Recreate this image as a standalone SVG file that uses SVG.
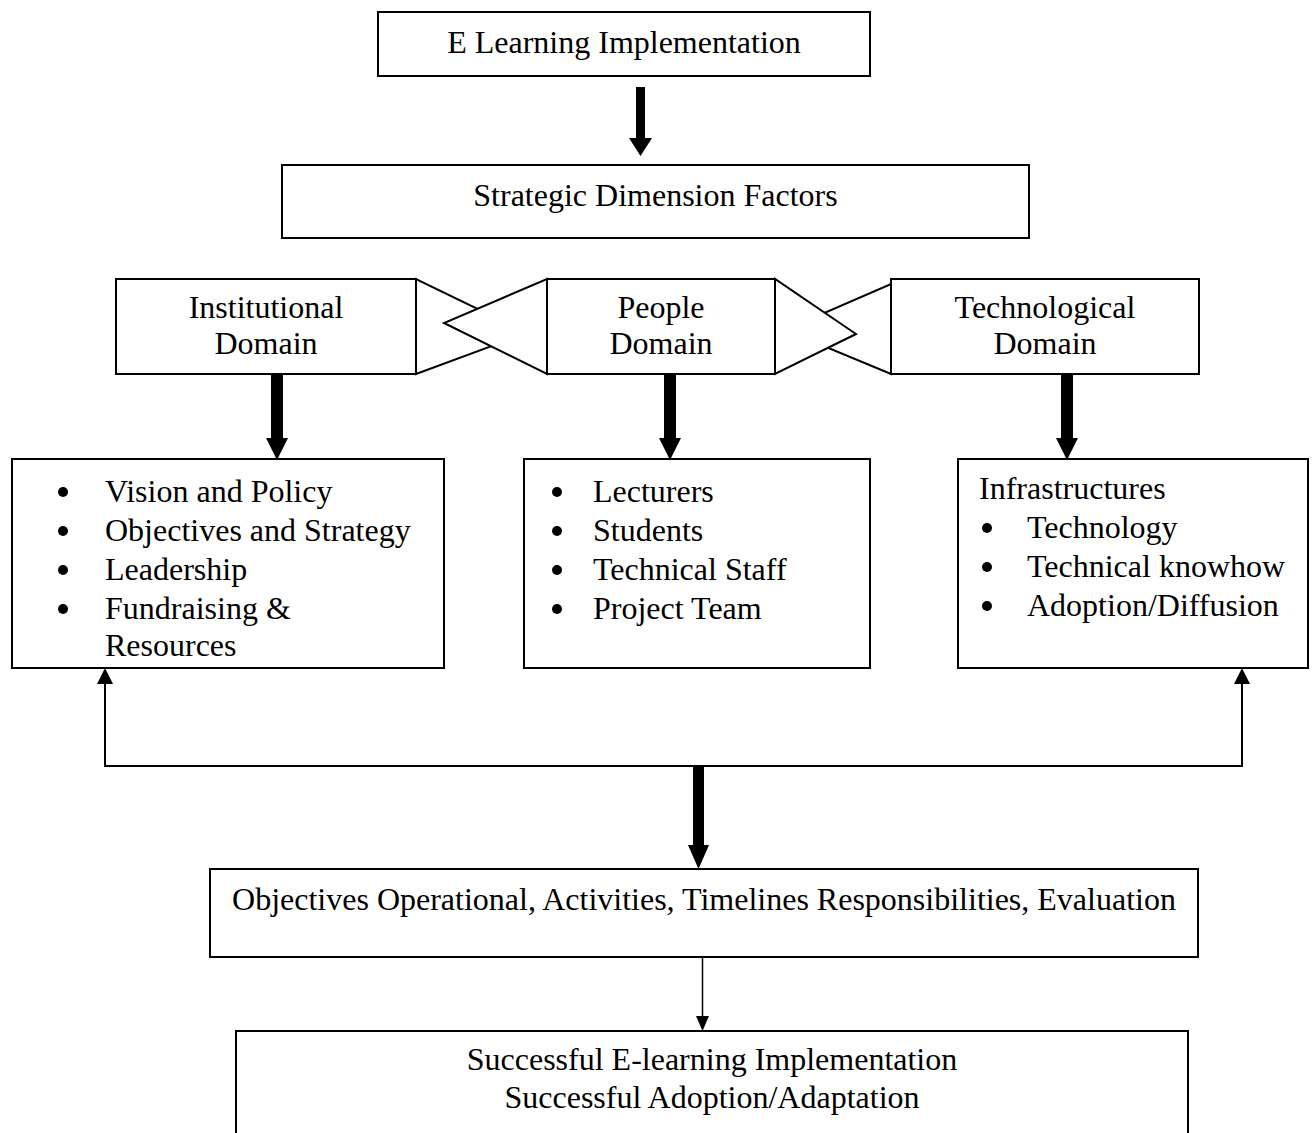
<svg xmlns="http://www.w3.org/2000/svg" width="1314" height="1133" viewBox="0 0 1314 1133">
<style>
.box{fill:#fff;stroke:#000;stroke-width:2}
.tri{fill:#fff;stroke:#000;stroke-width:2;stroke-linejoin:miter}
.t{font-family:"Liberation Serif","Times New Roman",serif;font-size:32px;fill:#000}
.c{text-anchor:middle}
.ln{fill:none;stroke:#000;stroke-width:2}
.thin{fill:none;stroke:#000;stroke-width:1.5}
.ah{fill:#000;stroke:none}
</style>
<rect x="0" y="0" width="1314" height="1133" fill="#fff"/>
<g id="connectors">
  <!-- top thick arrow -->
  <path class="ah" d="M636,87 H645 V138 H652 L640.5,156 L629,138 H636 Z"/>
  <!-- bowtie triangles -->
  <polygon class="tri" points="416,279 416,374 527,333"/>
  <polygon class="tri" points="891,284 891,374 785,330"/>
  <polygon class="tri" points="547,279 547,374 444,323"/>
  <polygon class="tri" points="775,279 775,374 856,334"/>
  <!-- domain thick arrows -->
  <path class="ah" d="M271,374 H283 V438 H288 L277,460 L266,438 H271 Z"/>
  <path class="ah" d="M664,374 H676 V438 H681 L670,460 L659,438 H664 Z"/>
  <path class="ah" d="M1061,374 H1073 V438 H1078 L1067,460 L1056,438 H1061 Z"/>
  <!-- feedback lines -->
  <path class="ln" d="M105,683 V766 H1242 V683"/>
  <polygon class="ah" points="97,684 113,684 105,668"/>
  <polygon class="ah" points="1234,684 1250,684 1242,668"/>
  <!-- thick arrow down to objectives -->
  <path class="ah" d="M693,766 H704 V845 H709 L698.5,869 L688,845 H693 Z"/>
  <!-- thin arrow to bottom box -->
  <line class="thin" x1="702.5" y1="958" x2="702.5" y2="1017"/>
  <polygon class="ah" points="696,1016 709,1016 702.5,1031"/>
</g>
<g id="n-elearning">
  <rect class="box" x="378" y="12" width="492" height="64"/>
  <text class="t c" x="624" y="53">E Learning Implementation</text>
</g>
<g id="n-strategic">
  <rect class="box" x="282" y="165" width="747" height="73"/>
  <text class="t c" x="655.5" y="206">Strategic Dimension Factors</text>
</g>
<g id="n-institutional">
  <rect class="box" x="116" y="279" width="300" height="95"/>
  <text class="t c" x="266" y="318">Institutional</text>
  <text class="t c" x="266" y="354">Domain</text>
</g>
<g id="n-people">
  <rect class="box" x="547" y="279" width="228" height="95"/>
  <text class="t c" x="661" y="318">People</text>
  <text class="t c" x="661" y="354">Domain</text>
</g>
<g id="n-technological">
  <rect class="box" x="891" y="279" width="308" height="95"/>
  <text class="t c" x="1045" y="318">Technological</text>
  <text class="t c" x="1045" y="354">Domain</text>
</g>
<g id="n-inst-list">
  <rect class="box" x="12" y="459" width="432" height="209"/>
  <circle cx="63" cy="492" r="5"/>
  <circle cx="63" cy="531" r="5"/>
  <circle cx="63" cy="570" r="5"/>
  <circle cx="63" cy="609" r="5"/>
  <text class="t" x="105" y="502">Vision and Policy</text>
  <text class="t" x="105" y="541">Objectives and Strategy</text>
  <text class="t" x="105" y="580">Leadership</text>
  <text class="t" x="105" y="619">Fundraising &amp;</text>
  <text class="t" x="105" y="656">Resources</text>
</g>
<g id="n-people-list">
  <rect class="box" x="524" y="459" width="346" height="209"/>
  <circle cx="557" cy="492" r="5"/>
  <circle cx="557" cy="531" r="5"/>
  <circle cx="557" cy="570" r="5"/>
  <circle cx="557" cy="609" r="5"/>
  <text class="t" x="593" y="502">Lecturers</text>
  <text class="t" x="593" y="541">Students</text>
  <text class="t" x="593" y="580">Technical Staff</text>
  <text class="t" x="593" y="619">Project Team</text>
</g>
<g id="n-tech-list">
  <rect class="box" x="958" y="459" width="350" height="209"/>
  <text class="t" x="979" y="499">Infrastructures</text>
  <circle cx="987" cy="528" r="5"/>
  <circle cx="987" cy="567" r="5"/>
  <circle cx="987" cy="606" r="5"/>
  <text class="t" x="1027" y="538">Technology</text>
  <text class="t" x="1027" y="577">Technical knowhow</text>
  <text class="t" x="1027" y="616">Adoption/Diffusion</text>
</g>
<g id="n-objectives">
  <rect class="box" x="210" y="869" width="988" height="88"/>
  <text class="t c" x="704" y="910">Objectives Operational, Activities, Timelines Responsibilities, Evaluation</text>
</g>
<g id="n-success">
  <rect class="box" x="236" y="1031" width="952" height="130"/>
  <text class="t c" x="712" y="1070">Successful E-learning Implementation</text>
  <text class="t c" x="712" y="1108">Successful Adoption/Adaptation</text>
</g>
</svg>
